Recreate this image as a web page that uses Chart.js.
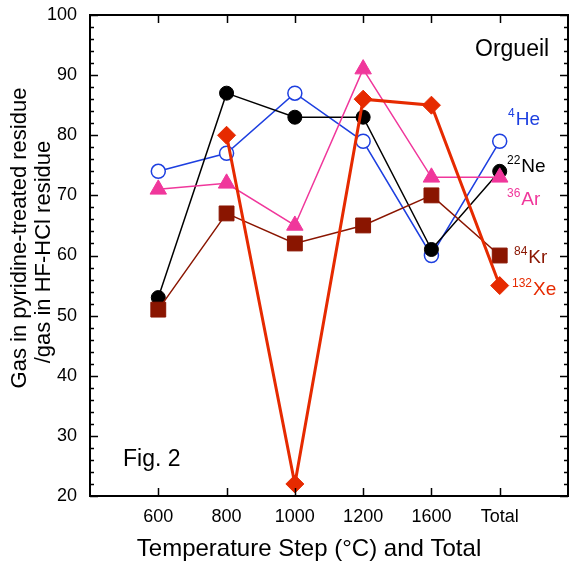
<!DOCTYPE html>
<html><head><meta charset="utf-8">
<script src="https://cdn.jsdelivr.net/npm/chart.js@4/dist/chart.umd.min.js"></script>
<style>html,body{margin:0;padding:0;background:#fff;overflow:hidden}</style>
</head><body>
<canvas id="c" width="571" height="563"></canvas>
<script>
const categories = ['600', '800', '1000', '1200', '1600', 'Total'];
const he4   = [74, 77, 87, 79, 60, 79];
const ne22  = [53, 87, 83, 83, 61, 74];
const ar36  = [71, 72, 65, 91, 73, 73];
const kr84  = [51, 67, 62, 65, 70, 60];
const xe132 = [null, 80, 22, 86, 85, 55];
const yMin = 20, yMax = 100, yStep = 10;

const FONT = '"Liberation Sans", Arial, Helvetica, sans-serif';
Chart.defaults.font.family = FONT;
Chart.defaults.color = '#000';

const pts = arr => arr.map((v, i) => ({x: i, y: v}));

const labels = [
  {sup: '4',   main: 'He', color: '#1d3fe0', x: 508, y: 125},
  {sup: '22',  main: 'Ne', color: '#000000', x: 507, y: 172},
  {sup: '36',  main: 'Ar', color: '#f0379b', x: 507, y: 205},
  {sup: '84',  main: 'Kr', color: '#8a1500', x: 514, y: 263},
  {sup: '132', main: 'Xe', color: '#e62a00', x: 512, y: 295}
];

const overlay = {
  id: 'overlay',
  afterDraw(chart) {
    const {ctx, chartArea: a, scales: {x, y}} = chart;
    ctx.save();
    ctx.strokeStyle = '#000';
    ctx.lineWidth = 1.5;
    ctx.beginPath();
    for (let v = yMin; v <= yMax; v += 2) {
      const py = Math.round(y.getPixelForValue(v)) + 0.5;
      const len = (v % 10 === 0) ? 8 : 4;
      ctx.moveTo(a.left, py); ctx.lineTo(a.left + len, py);
      ctx.moveTo(a.right, py); ctx.lineTo(a.right - len, py);
    }
    for (let i = 0; i < categories.length; i++) {
      const px = Math.round(x.getPixelForValue(i)) + 0.5;
      ctx.moveTo(px, a.bottom); ctx.lineTo(px, a.bottom - 8);
      ctx.moveTo(px, a.top); ctx.lineTo(px, a.top + 8);
    }
    ctx.stroke();
    ctx.lineWidth = 2;
    ctx.strokeRect(a.left, a.top, a.right - a.left, a.bottom - a.top);

    ctx.fillStyle = '#000';
    ctx.textBaseline = 'alphabetic';
    ctx.textAlign = 'center';
    ctx.font = '24px ' + FONT;
    ctx.fillText('Temperature Step (°C) and Total', 309, 556);

    ctx.save();
    ctx.font = '22px ' + FONT;
    ctx.translate(26, 238);
    ctx.rotate(-Math.PI / 2);
    ctx.fillText('Gas in pyridine-treated residue', 0, 0);
    ctx.restore();
    ctx.save();
    ctx.font = '22px ' + FONT;
    ctx.translate(50, 252);
    ctx.rotate(-Math.PI / 2);
    ctx.fillText('/gas in HF-HCl residue', 0, 0);
    ctx.restore();

    ctx.textAlign = 'left';
    ctx.font = '23px ' + FONT;
    ctx.fillText('Orgueil', 475, 56);
    ctx.fillText('Fig. 2', 123, 466);

    labels.forEach(l => {
      ctx.fillStyle = l.color;
      ctx.font = '12px ' + FONT;
      ctx.fillText(l.sup, l.x, l.y - 8);
      const w = ctx.measureText(l.sup).width;
      ctx.font = '19px ' + FONT;
      ctx.fillText(l.main, l.x + w + 1, l.y);
    });
    ctx.restore();
  }
};

new Chart(document.getElementById('c'), {
  type: 'line',
  data: {
    datasets: [
      {label: '132Xe', data: pts(xe132), borderColor: '#e62a00', backgroundColor: '#e62a00',
       borderWidth: 3, pointStyle: 'rectRot', pointRadius: 9, pointBorderWidth: 1, spanGaps: false},
      {label: '36Ar', data: pts(ar36), borderColor: '#f0379b', backgroundColor: '#f0379b',
       borderWidth: 1.5, pointStyle: 'triangle', pointRadius: 9.5, pointBorderWidth: 1},
      {label: '84Kr', data: pts(kr84), borderColor: '#8a1500', backgroundColor: '#8a1500',
       borderWidth: 1.5, pointStyle: 'rect', pointRadius: 10.5, pointBorderWidth: 1},
      {label: '22Ne', data: pts(ne22), borderColor: '#000000', backgroundColor: '#000000',
       borderWidth: 1.5, pointStyle: 'circle', pointRadius: 7, pointBorderWidth: 1},
      {label: '4He', data: pts(he4), borderColor: '#1d3fe0', backgroundColor: '#ffffff',
       pointBackgroundColor: '#ffffff', borderWidth: 1.5, pointStyle: 'circle', pointRadius: 7, pointBorderWidth: 1.5}
    ]
  },
  options: {
    responsive: false,
    animation: false,
    devicePixelRatio: 1,
    layout: {autoPadding: false, padding: {top: 15, right: 3, left: 0, bottom: 0}},
    plugins: {legend: {display: false}, tooltip: {enabled: false}},
    elements: {line: {tension: 0}},
    scales: {
      x: {
        type: 'linear', min: -1, max: 6,
        grid: {display: false, drawTicks: false}, border: {display: false},
        ticks: {stepSize: 1, autoSkip: false, maxRotation: 0, padding: 10,
                font: {size: 18}, color: '#000',
                callback: v => (Number.isInteger(v) && categories[v] !== undefined) ? categories[v] : ''},
        afterFit: s => { s.height = 67; s.paddingLeft = 0; s.paddingRight = 0; }
      },
      y: {
        min: yMin, max: yMax,
        grid: {display: false, drawTicks: false}, border: {display: false},
        ticks: {stepSize: yStep, padding: 13, font: {size: 18}, color: '#000'},
        afterFit: s => { s.width = 90; s.paddingTop = 0; s.paddingBottom = 0; }
      }
    }
  },
  plugins: [overlay]
});
</script>
</body></html>
